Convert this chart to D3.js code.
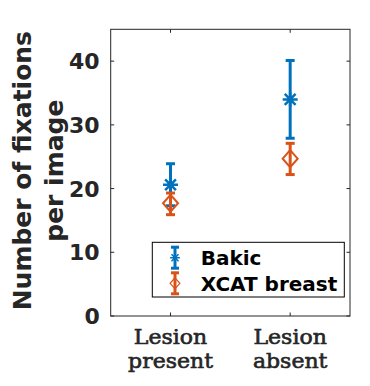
<!DOCTYPE html>
<html>
<head>
<meta charset="utf-8">
<script src="https://cdn.jsdelivr.net/npm/d3@7"></script>
<style>
  body { margin: 0; background: #fff; }
  svg { display: block; }
</style>
</head>
<body>
<div id="chart"></div>
<script>
// values
const categories = [["Lesion", "present"], ["Lesion", "absent"]];
const seriesNames = ["Bakic", "XCAT breast"];
const bakicMean = [20.6, 34.0];
const bakicLow = [17.3, 27.9];
const bakicHigh = [23.9, 40.1];
const xcatMean = [17.7, 24.7];
const xcatLow = [15.9, 22.2];
const xcatHigh = [19.3, 27.1];
const yTicks = [0, 10, 20, 30, 40];

const W = 370, H = 386;
const box = {left: 110.7, right: 350, top: 29.3, bottom: 316};
const colors = ["#0072BD", "#D95319"];
const axisColor = "#262626";

const svg = d3.select("#chart").append("svg")
    .attr("width", W).attr("height", H);

const x = d3.scaleLinear().domain([0.5, 2.5]).range([box.left, box.right]);
const y = d3.scaleLinear().domain([0, 45]).range([box.bottom, box.top]);

const series = [
    {name: seriesNames[0], mean: bakicMean, low: bakicLow, high: bakicHigh, marker: "star"},
    {name: seriesNames[1], mean: xcatMean, low: xcatLow, high: xcatHigh, marker: "diamond"}
];

// axes box
svg.append("rect")
    .attr("x", box.left).attr("y", box.top)
    .attr("width", box.right - box.left).attr("height", box.bottom - box.top)
    .attr("fill", "#fff").attr("stroke", axisColor).attr("stroke-width", 1);

// y ticks (left and right, inward)
const tickLen = 3.5;
yTicks.forEach(t => {
    svg.append("line").attr("x1", box.left).attr("x2", box.left + tickLen)
        .attr("y1", y(t)).attr("y2", y(t)).attr("stroke", axisColor);
    svg.append("line").attr("x1", box.right).attr("x2", box.right - tickLen)
        .attr("y1", y(t)).attr("y2", y(t)).attr("stroke", axisColor);
    svg.append("text")
        .attr("x", box.left - 11).attr("y", y(t) + 8)
        .attr("text-anchor", "end")
        .attr("font-family", "DejaVu Sans").attr("font-weight", "bold")
        .attr("font-size", 22).attr("fill", axisColor)
        .text(t);
});

// x ticks and labels
categories.forEach((c, i) => {
    const cx = x(i + 1);
    svg.append("line").attr("x1", cx).attr("x2", cx)
        .attr("y1", box.bottom).attr("y2", box.bottom - tickLen).attr("stroke", axisColor);
    svg.append("line").attr("x1", cx).attr("x2", cx)
        .attr("y1", box.top).attr("y2", box.top + tickLen).attr("stroke", axisColor);
    const t = svg.append("text")
        .attr("transform", `translate(${cx},0) scale(1.1,1)`)
        .attr("text-anchor", "middle")
        .attr("font-family", "DejaVu Serif")
        .attr("font-size", 20).attr("fill", axisColor)
        .attr("stroke", axisColor).attr("stroke-width", 0.6);
    c.forEach((line, k) => {
        t.append("tspan").attr("x", 0).attr("y", 344.5 + k * 23.5).text(line);
    });
});

// y label
const yl = svg.append("text")
    .attr("transform", `translate(0, ${(box.top + box.bottom) / 2 - 2}) rotate(-90)`)
    .attr("text-anchor", "middle")
    .attr("font-family", "DejaVu Sans").attr("font-weight", "bold")
    .attr("font-size", 25).attr("fill", axisColor);
yl.append("tspan").attr("x", 0).attr("y", 31).text("Number of fixations");
yl.append("tspan").attr("x", 0).attr("y", 63).text("per image");

function starPath(r) {
    const d = r * 0.72;
    return `M${-r},0L${r},0M0,${-r}L0,${r}M${-d},${-d}L${d},${d}M${-d},${d}L${d},${-d}`;
}
function diamondPath(w, h) {
    return `M0,${-h}L${w},0L0,${h}L${-w},0Z`;
}

function drawErrorbar(g, cx, yLow, yHigh, capW, color, lw) {
    g.append("line").attr("x1", cx).attr("x2", cx).attr("y1", yLow).attr("y2", yHigh)
        .attr("stroke", color).attr("stroke-width", lw);
    [yLow, yHigh].forEach(yy => {
        g.append("line").attr("x1", cx - capW / 2).attr("x2", cx + capW / 2)
            .attr("y1", yy).attr("y2", yy)
            .attr("stroke", color).attr("stroke-width", lw);
    });
}

function drawMarker(g, type, cx, cy, color, scale, sw) {
    if (type === "star") {
        g.append("path").attr("d", starPath(7.5 * scale))
            .attr("transform", `translate(${cx},${cy})`)
            .attr("stroke", color).attr("stroke-width", sw).attr("fill", "none");
    } else {
        g.append("path").attr("d", diamondPath(7.5 * scale, 8.5 * scale))
            .attr("transform", `translate(${cx},${cy})`)
            .attr("stroke", color).attr("stroke-width", sw * 0.8).attr("fill", "none");
    }
}

// data
series.forEach((s, si) => {
    const g = svg.append("g").attr("class", "series");
    s.mean.forEach((m, i) => {
        const cx = x(i + 1);
        drawErrorbar(g, cx, y(s.low[i]), y(s.high[i]), 9, colors[si], 3);
        drawMarker(g, s.marker, cx, y(m), colors[si], 1, 2.5);
    });
});

// legend
const lg = svg.append("g");
lg.append("rect").attr("x", 152.3).attr("y", 242.3).attr("width", 192).attr("height", 54.7)
    .attr("fill", "#fff").attr("stroke", "#000").attr("stroke-width", 1);
series.forEach((s, si) => {
    const cy = 257.7 + si * 25.6;
    drawErrorbar(lg, 175, cy - 10.5, cy + 10.5, 8, colors[si], 3);
    drawMarker(lg, s.marker, 175, cy, colors[si], 0.65, 1.5);
    lg.append("text").attr("x", 200.7).attr("y", cy + 7.5)
        .attr("font-family", "DejaVu Sans").attr("font-weight", "bold")
        .attr("font-size", 20).attr("fill", "#000")
        .text(s.name);
});
</script>
</body>
</html>
